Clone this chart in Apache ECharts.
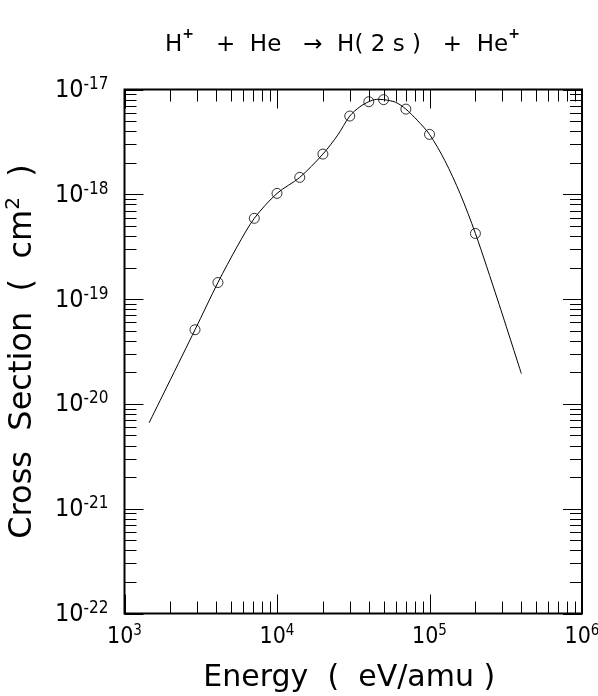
<!DOCTYPE html>
<html>
<head>
<meta charset="utf-8">
<script src="https://cdn.jsdelivr.net/npm/echarts@6/dist/echarts.min.js"></script>
<style>
html,body{margin:0;padding:0;background:#fff;}
#chart{width:598px;height:696px;}
</style>
</head>
<body>
<div id="chart"></div>
<script>
// Measured cross sections (circles), energy in eV/amu, sigma in cm^2
const pointEnergy = [2.9e3, 4.1e3, 7.1e3, 1.0e4, 1.41e4, 2.0e4, 3.0e4, 4.0e4, 5.0e4, 7.0e4, 1.0e5, 2.0e5];
const pointSigma  = [5.1e-20, 1.44e-19, 5.9e-19, 1.02e-18, 1.45e-18, 2.42e-18, 5.58e-18, 7.65e-18, 8.0e-18, 6.5e-18, 3.73e-18, 4.23e-19];

// Fitted curve
const fitEnergy = [1.45e3, 2.9e3, 4.1e3, 5.5e3, 7.1e3, 1.0e4, 1.41e4, 2.0e4, 2.5e4, 3.0e4, 3.5e4, 4.0e4, 4.5e4, 5.0e4, 6.0e4, 7.0e4, 8.3e4, 1.0e5, 1.26e5, 1.585e5, 2.0e5, 2.8e5, 4.0e5];
const fitSigma  = [6.6e-21, 5.1e-20, 1.44e-19, 3.2e-19, 5.9e-19, 1.02e-18, 1.45e-18, 2.42e-18, 3.67e-18, 5.58e-18, 6.85e-18, 7.65e-18, 8.05e-18, 8.0e-18, 7.55e-18, 6.5e-18, 5.1e-18, 3.73e-18, 2.1e-18, 1.02e-18, 4.23e-19, 9.8e-20, 1.95e-20];

// Axis ranges and ticks
const xMin = 1e3, xMax = 1e6;
const yMin = 1e-22, yMax = 1e-17;
const xDecades = [1e3, 1e4, 1e5, 1e6];
const yDecades = [1e-22, 1e-21, 1e-20, 1e-19, 1e-18, 1e-17];
const minorMultipliers = [2, 3, 4, 5, 6, 7, 8, 9];

const titleText = '{b|H}{s|+}{b|   +  He   →  H( 2 s )   +  He}{s|+}';
const xName = 'Energy  (  eV/amu )';
const yName = 'Cross  Section  (  cm{s|2}  )';

// ECharts 6 log scale cannot handle values near 1e-22 directly:
// plot sigma in units of 1e-22 cm^2 and relabel the exponents.
const Y_UNIT_EXP = -22;
const Y_UNIT = 1e-22;
function ys(v) { return v / Y_UNIT; }

const MAJOR_LEN = 19, MINOR_LEN = 12;
const xTickData = [];
const yTickData = [];
xDecades.forEach(function (d, i) {
  xTickData.push([d, 100, MAJOR_LEN]);
  if (i < xDecades.length - 1) minorMultipliers.forEach(function (m) { xTickData.push([m * d, 100, MINOR_LEN]); });
});
yDecades.forEach(function (d, i) {
  yTickData.push([1e4, ys(d), MAJOR_LEN]);
  if (i < yDecades.length - 1) minorMultipliers.forEach(function (m) { yTickData.push([1e4, ys(m * d), MINOR_LEN]); });
});

const numFont = "'Liberation Sans Narrow', 'DejaVu Sans Condensed', 'Liberation Sans', sans-serif";
const textFont = "'DejaVu Sans', sans-serif";

function expText(e) {
  return '{b|10}{s|' + (e < 0 ? '-' + (-e) : e) + '}';
}
function xLabel(v) { return expText(Math.round(Math.log10(v))); }
function yLabel(v) { return expText(Math.round(Math.log10(v)) + Y_UNIT_EXP); }

function line(x1, y1, x2, y2) {
  return {type: 'line', shape: {x1: x1, y1: y1, x2: x2, y2: y2}, style: {stroke: '#000', lineWidth: 1}};
}

const yLabelRich = {
  b: {fontFamily: numFont, fontSize: 25, color: '#000', lineHeight: 27, verticalAlign: 'bottom'},
  s: {fontFamily: numFont, fontSize: 17, color: '#000', lineHeight: 27, verticalAlign: 'top'}
};
const xLabelRich = {
  b: {fontFamily: numFont, fontSize: 23, color: '#000', lineHeight: 25, verticalAlign: 'bottom'},
  s: {fontFamily: numFont, fontSize: 15, color: '#000', lineHeight: 25, verticalAlign: 'top'}
};

const chart = echarts.init(document.getElementById('chart'), null, {renderer: 'canvas'});
const option = {
  backgroundColor: '#fff',
  animation: false,
  title: {
    text: titleText,
    left: 160,
    top: 22,
    textStyle: {
      fontWeight: 'normal',
      rich: {
        b: {fontFamily: textFont, fontSize: 23, color: '#000', fontWeight: 'normal', lineHeight: 30, verticalAlign: 'bottom'},
        s: {fontFamily: textFont, fontSize: 14, color: '#000', lineHeight: 30, verticalAlign: 'top', fontWeight: 'bold'}
      }
    }
  },
  grid: {left: 124.5, right: 16, top: 89.5, bottom: 82.5, containLabel: false, outerBoundsMode: 'none',
    show: true, borderColor: '#000', borderWidth: 2, backgroundColor: 'transparent'},
  xAxis: {
    type: 'log', logBase: 10, min: xMin, max: xMax,
    axisLine: {show: false}, axisTick: {show: false}, splitLine: {show: false},
    axisLabel: {margin: 10, formatter: xLabel, rich: xLabelRich},
    name: xName, nameLocation: 'middle', nameGap: 50,
    nameTextStyle: {fontFamily: textFont, fontSize: 30, color: '#000', padding: [0, 8, 0, 0]}
  },
  yAxis: {
    type: 'log', logBase: 10, min: ys(yMin), max: ys(yMax),
    axisLine: {show: false}, axisTick: {show: false}, splitLine: {show: false},
    axisLabel: {margin: 16, formatter: yLabel, rich: yLabelRich},
    name: yName, nameLocation: 'middle', nameGap: 83, nameRotate: 90,
    nameTextStyle: {fontFamily: textFont, fontSize: 32, color: '#000',
      rich: {s: {fontFamily: textFont, fontSize: 20, color: '#000', verticalAlign: 'top', lineHeight: 38}}}
  },
  series: [
    {
      type: 'custom', coordinateSystem: 'cartesian2d', silent: true, z: 5,
      data: xTickData,
      encode: {x: 0, y: 1},
      renderItem: function (params, api) {
        const cs = params.coordSys;
        const px = Math.round(api.coord([api.value(0), api.value(1)])[0]) + 0.5;
        const len = api.value(2);
        const b = cs.y + cs.height, t = cs.y;
        return {type: 'group', children: [line(px, b, px, b - len), line(px, t, px, t + len)]};
      }
    },
    {
      type: 'custom', coordinateSystem: 'cartesian2d', silent: true, z: 5,
      data: yTickData,
      encode: {x: 0, y: 1},
      renderItem: function (params, api) {
        const cs = params.coordSys;
        const py = Math.round(api.coord([api.value(0), api.value(1)])[1]) + 0.5;
        const len = api.value(2);
        const l = cs.x, r = cs.x + cs.width;
        return {type: 'group', children: [line(l, py, l + len, py), line(r, py, r - len, py)]};
      }
    },
    {
      type: 'line', smooth: 0.3, showSymbol: false, symbol: 'none', z: 3,
      data: fitEnergy.map(function (e, i) { return [e, ys(fitSigma[i])]; }),
      lineStyle: {color: '#000', width: 1}
    },
    {
      type: 'scatter', symbol: 'circle', symbolSize: 10, z: 4,
      data: pointEnergy.map(function (e, i) { return [e, ys(pointSigma[i])]; }),
      itemStyle: {color: 'rgba(0,0,0,0)', borderColor: '#000', borderWidth: 1}
    }
  ]
};
chart.setOption(option);
</script>
</body>
</html>
